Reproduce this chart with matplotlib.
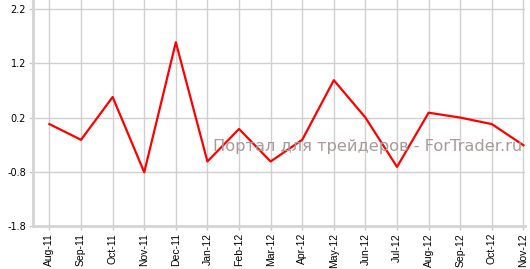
import matplotlib
matplotlib.use('Agg')
import matplotlib.pyplot as plt

# monthly values
months = ['Aug-11', 'Sep-11', 'Oct-11', 'Nov-11', 'Dec-11', 'Jan-12', 'Feb-12', 'Mar-12',
          'Apr-12', 'May-12', 'Jun-12', 'Jul-12', 'Aug-12', 'Sep-12', 'Oct-12', 'Nov-12']
values = [0.08, -0.21, 0.58, -0.81, 1.59, -0.61, -0.01, -0.61,
          -0.21, 0.89, 0.2, -0.71, 0.29, 0.2, 0.08, -0.31]
yticks = [-1.8, -0.8, 0.2, 1.2, 2.2]

fig = plt.figure(figsize=(5.3, 2.69), dpi=100)
ax = fig.add_axes([33 / 530, 0.16, 492 / 530, 0.84])

x = list(range(len(months)))
ax.plot(x, values, color='#ff0000', lw=1.6, zorder=3)

ax.set_xlim(-0.52, 15.05)
ax.set_ylim(-1.8, 2.37)
ax.set_xticks(x)
ax.set_xticklabels(months, rotation=90, fontsize=7.5, family='Liberation Sans')
ax.set_yticks(yticks)
ax.set_yticklabels(['%.1f' % v for v in yticks], fontsize=7)
ax.grid(True, color='#d0d0d0', lw=1)
ax.set_axisbelow(True)

for s in ['top', 'right']:
	ax.spines[s].set_visible(False)
for s in ['left', 'bottom']:
	ax.spines[s].set_color('#d4d4d4')
	ax.spines[s].set_linewidth(2)
ax.tick_params(color='#c8c8c8', length=3, width=1, pad=2)

# watermark
ax.text(10.08, -0.34, 'Портал для трейдеров - ForTrader.ru', fontsize=11.7,
	color='#a89a9a', ha='center', va='center', zorder=4)

fig.savefig('out.png', dpi=100)
